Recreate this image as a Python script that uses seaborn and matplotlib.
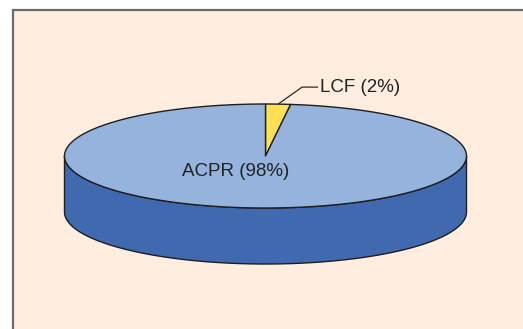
import numpy as np
import matplotlib
matplotlib.use("Agg")
import matplotlib.pyplot as plt
from matplotlib.patches import Polygon, Rectangle
import seaborn as sns

# Share of cases by type
categories = ["ACPR", "LCF"]
shares = [98, 2]
top_colors = ["#95B3DC", "#FFE055"]
side_colors = ["#4169B0", "#D9B830"]

sns.set_theme(style="white")
plt.rcParams["font.family"] = ["Liberation Sans", "DejaVu Sans"]

W, H = 523, 329
fig = plt.figure(figsize=(W / 100, H / 100), dpi=100, facecolor="white")
ax = fig.add_axes([0, 0, 1, 1])
ax.set_xlim(0, W)
ax.set_ylim(H, 0)
ax.axis("off")

# Chart panel
ax.add_patch(Rectangle((13, 10), W, H, facecolor="#FFEEE0", edgecolor="#6E6A68",
                       linewidth=1.6, zorder=0))

# Pie geometry (screen units, y down); angle measured clockwise from top
cx, cy, a, b, depth = 265.5, 156, 201, 52, 56
edge = "#1E1E1E"


def rim(phi, dy=0.0):
    return cx + a * np.sin(phi), cy - b * np.cos(phi) + dy


fr = np.array(shares[::-1], dtype=float)
labels = categories[::-1]
tops = top_colors[::-1]
sides = side_colors[::-1]
bounds = np.concatenate([[0], np.cumsum(fr / fr.sum())]) * 2 * np.pi

# Front side walls (visible between 90 and 270 degrees)
for i in range(len(fr)):
    lo = max(bounds[i], np.pi / 2)
    hi = min(bounds[i + 1], 3 * np.pi / 2)
    if hi <= lo:
        continue
    t = np.linspace(lo, hi, 200)
    x1, y1 = rim(t)
    x2, y2 = rim(t[::-1], depth)
    pts = np.column_stack([np.concatenate([x1, x2]), np.concatenate([y1, y2])])
    ax.add_patch(Polygon(pts, closed=True, facecolor=sides[i], edgecolor=edge,
                         linewidth=1.0, joinstyle="round", zorder=2))

# Top faces
for i in range(len(fr)):
    t = np.linspace(bounds[i], bounds[i + 1], 300)
    x, y = rim(t)
    pts = np.column_stack([np.concatenate([[cx], x]), np.concatenate([[cy], y])])
    ax.add_patch(Polygon(pts, closed=True, facecolor=tops[i], edgecolor=edge,
                         linewidth=1.0, joinstyle="round", zorder=3))

fs = 13.5
# Small slice: leader line + outside label
mid = (bounds[0] + bounds[1]) / 2
px, py = rim(mid)
ax.plot([px, px + 24, px + 40], [py, py - 17, py - 17], color="#2A2A2A",
        linewidth=0.9, zorder=4, solid_capstyle="butt")
ax.text(px + 42, py - 17, f"{labels[0]} ({shares[1]}%)", fontsize=fs,
        color="#222222", ha="left", va="center", zorder=5)

# Large slice: label on the top face
ax.text(cx - 30, cy + 16, f"{labels[1]} ({shares[0]}%)", fontsize=fs,
        color="#222222", ha="center", va="center", zorder=5)

fig.savefig("out.png", dpi=100, facecolor="white")
